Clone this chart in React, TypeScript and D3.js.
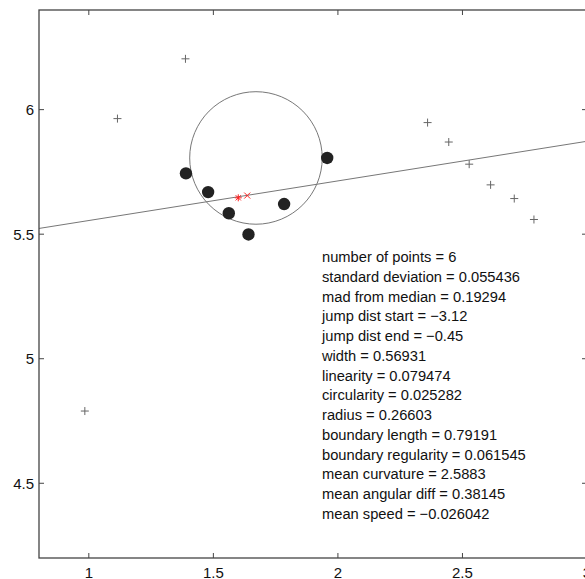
import React from "react";
import * as d3 from "d3";

// points outside the segment (plus markers)
const plusX = [1.388, 1.115, 0.984, 2.36, 2.445, 2.527, 2.613, 2.708, 2.787];
const plusY = [6.204, 5.964, 4.79, 5.948, 5.87, 5.781, 5.698, 5.643, 5.559];

// points of the segment (filled dots)
const segX = [1.39, 1.479, 1.562, 1.641, 1.784, 1.957];
const segY = [5.744, 5.669, 5.584, 5.499, 5.621, 5.806];

// fitted circle and line
const circleCenter = [1.671, 5.806];
const circleRadius = 0.26603;
const lineX = [0.8, 3];
const lineY = [5.523, 5.873];

// red markers: centroid (star) and mean (cross)
const starPt = [1.6, 5.646];
const crossPt = [1.636, 5.655];

const xTicks = [1, 1.5, 2, 2.5, 3];
const yTicks = [4.5, 5, 5.5, 6];
const xTickLabels = ["1", "1.5", "2", "2.5", "3"];
const yTickLabels = ["4.5", "5", "5.5", "6"];

const statLines = [
  "number of points = 6",
  "standard deviation = 0.055436",
  "mad from median = 0.19294",
  "jump dist start = \u22123.12",
  "jump dist end = \u22120.45",
  "width = 0.56931",
  "linearity = 0.079474",
  "circularity = 0.025282",
  "radius = 0.26603",
  "boundary length = 0.79191",
  "boundary regularity = 0.061545",
  "mean curvature = 2.5883",
  "mean angular diff = 0.38145",
  "mean speed = \u22120.026042",
];

const width = 585;
const height = 579;
const left = 39;
const right = 587;
const top = 10;
const bottom = 558;

export default function App() {
  const x = d3.scaleLinear().domain([0.8, 3]).range([left, right]);
  const y = d3.scaleLinear().domain([4.2, 6.4]).range([bottom, top]);
  const axisColor = "#444";
  const markColor = "#666";
  const tick = 5;
  const font = "'Liberation Sans', Arial, Helvetica, sans-serif";

  const pxPerUnit = x(1) - x(0);

  return (
    <svg
      width={width}
      height={height}
      style={{ position: "absolute", left: 0, top: 0, background: "#fff" }}
      fontFamily={font}
    >
      <rect x={0} y={0} width={width} height={height} fill="#fff" />

      {/* fitted line */}
      <line
        x1={x(lineX[0])}
        y1={y(lineY[0])}
        x2={x(lineX[1])}
        y2={y(lineY[1])}
        stroke="#777"
        strokeWidth={1}
      />

      {/* fitted circle */}
      <circle
        cx={x(circleCenter[0])}
        cy={y(circleCenter[1])}
        r={circleRadius * pxPerUnit}
        fill="none"
        stroke="#777"
        strokeWidth={1}
      />

      {/* plus markers */}
      {plusX.map((v, i) => {
        const cx = x(v);
        const cy = y(plusY[i]);
        return (
          <path
            key={"p" + i}
            d={`M${cx - 4},${cy}H${cx + 4}M${cx},${cy - 4}V${cy + 4}`}
            stroke={markColor}
            strokeWidth={1}
          />
        );
      })}

      {/* segment points */}
      {segX.map((v, i) => (
        <circle key={"s" + i} cx={x(v)} cy={y(segY[i])} r={6.2} fill="#222" />
      ))}

      {/* red star */}
      {(() => {
        const cx = x(starPt[0]);
        const cy = y(starPt[1]);
        const s = 3.5;
        const d = s * 0.75;
        return (
          <path
            d={`M${cx - s},${cy}H${cx + s}M${cx},${cy - s}V${cy + s}M${cx - d},${cy - d}L${cx + d},${cy + d}M${cx - d},${cy + d}L${cx + d},${cy - d}`}
            stroke="#f22"
            strokeWidth={1}
          />
        );
      })()}
      {(() => {
        const cx = x(crossPt[0]);
        const cy = y(crossPt[1]);
        const d = 3;
        return (
          <path
            d={`M${cx - d},${cy - d}L${cx + d},${cy + d}M${cx - d},${cy + d}L${cx + d},${cy - d}`}
            stroke="#f22"
            strokeWidth={1}
          />
        );
      })()}

      {/* axes box */}
      <rect
        x={left}
        y={top}
        width={right - left}
        height={bottom - top}
        fill="none"
        stroke={axisColor}
        strokeWidth={1.3}
      />

      {/* ticks */}
      {xTicks.map((t, i) => (
        <g key={"xt" + i}>
          <line x1={x(t)} x2={x(t)} y1={bottom} y2={bottom - tick} stroke={axisColor} />
          <line x1={x(t)} x2={x(t)} y1={top} y2={top + tick} stroke={axisColor} />
          <text
            x={x(t)}
            y={578}
            textAnchor="middle"
            fontSize={15}
            fill="#111"
          >
            {xTickLabels[i]}
          </text>
        </g>
      ))}
      {yTicks.map((t, i) => (
        <g key={"yt" + i}>
          <line x1={left} x2={left + tick} y1={y(t)} y2={y(t)} stroke={axisColor} />
          <line x1={right} x2={right - tick} y1={y(t)} y2={y(t)} stroke={axisColor} />
          <text
            x={34}
            y={y(t) + 5.4}
            textAnchor="end"
            fontSize={15}
            fill="#111"
          >
            {yTickLabels[i]}
          </text>
        </g>
      ))}

      {/* statistics */}
      {statLines.map((s, i) => (
        <text key={"st" + i} x={322} y={262 + i * 19.75} fontSize={14.7} fill="#111">
          {s}
        </text>
      ))}
    </svg>
  );
}
